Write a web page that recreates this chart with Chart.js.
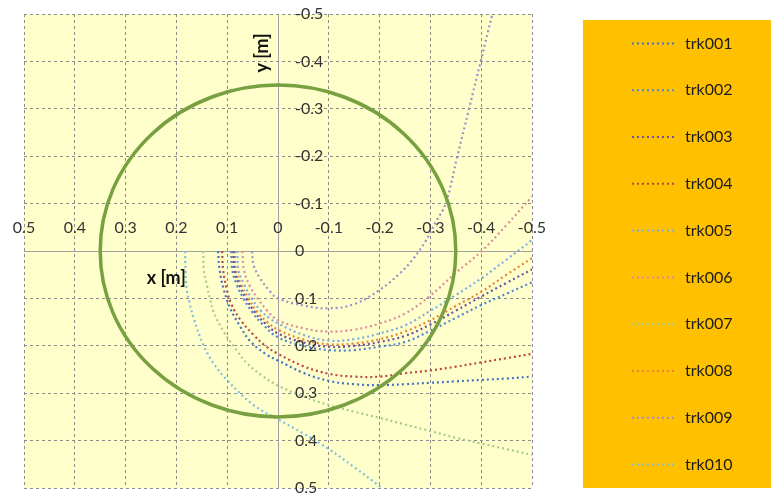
<!DOCTYPE html>
<html>
<head>
<meta charset="utf-8">
<script src="https://cdn.jsdelivr.net/npm/chart.js@4.4.1/dist/chart.umd.min.js"></script>
<style>
  html, body { margin: 0; padding: 0; background: #ffffff; }
  #wrap { width: 771px; height: 493px; }
</style>
</head>
<body>
<div id="wrap"><canvas id="tracks" width="771" height="493"></canvas></div>
<script>
// Track names shown in the legend
const trackNames = ['trk001', 'trk002', 'trk003', 'trk004', 'trk005',
                    'trk006', 'trk007', 'trk008', 'trk009', 'trk010'];

// Track coordinates, [x, y] in metres
const trk001 = [[0.118,0],[0.115,0.04],[0.107,0.08],[0.094,0.121],[0.075,0.158],[0.055,0.19],[0.022,0.219],[0,0.231],[-0.05,0.257],[-0.1,0.274],[-0.15,0.281],[-0.2,0.283],[-0.25,0.281],[-0.3,0.278],[-0.35,0.275],[-0.4,0.272],[-0.45,0.269],[-0.5,0.265]];
const trk002 = [[0.092,0],[0.09,0.04],[0.081,0.072],[0.068,0.1],[0.05,0.13],[0.03,0.155],[0,0.182],[-0.05,0.2],[-0.1,0.209],[-0.15,0.209],[-0.2,0.202],[-0.25,0.192],[-0.3,0.168],[-0.35,0.141],[-0.4,0.114],[-0.45,0.09],[-0.5,0.066]];
const trk003 = [[0.088,0],[0.086,0.04],[0.076,0.072],[0.063,0.1],[0.045,0.13],[0.025,0.153],[0,0.174],[-0.05,0.193],[-0.1,0.202],[-0.15,0.2],[-0.2,0.192],[-0.25,0.179],[-0.3,0.155],[-0.35,0.126],[-0.4,0.096],[-0.45,0.067],[-0.5,0.039]];
const trk004 = [[0.11,0],[0.108,0.04],[0.101,0.08],[0.091,0.114],[0.072,0.148],[0.048,0.177],[0.025,0.2],[0,0.217],[-0.05,0.243],[-0.1,0.259],[-0.15,0.265],[-0.2,0.265],[-0.25,0.258],[-0.3,0.252],[-0.35,0.244],[-0.4,0.235],[-0.45,0.226],[-0.5,0.217]];
const trk005 = [[0.08,0],[0.078,0.04],[0.066,0.072],[0.052,0.1],[0.034,0.126],[0.015,0.143],[0,0.153],[-0.05,0.177],[-0.1,0.189],[-0.15,0.186],[-0.2,0.174],[-0.25,0.157],[-0.3,0.126],[-0.35,0.093],[-0.4,0.058],[-0.45,0.018],[-0.5,-0.023]];
const trk006 = [[0.07,0],[0.067,0.04],[0.055,0.075],[0.04,0.1],[0.022,0.125],[0,0.146],[-0.05,0.163],[-0.1,0.17],[-0.15,0.166],[-0.2,0.153],[-0.25,0.132],[-0.3,0.094],[-0.35,0.046],[-0.4,0.001],[-0.45,-0.055],[-0.5,-0.115]];
const trk007 = [[0.147,0],[0.146,0.04],[0.14,0.072],[0.134,0.1],[0.127,0.128],[0.107,0.17],[0.081,0.21],[0.061,0.237],[0.03,0.264],[0,0.284],[-0.05,0.307],[-0.1,0.325],[-0.15,0.339],[-0.2,0.352],[-0.25,0.366],[-0.3,0.38],[-0.35,0.394],[-0.4,0.406],[-0.45,0.418],[-0.5,0.43]];
const trk008 = [[0.085,0],[0.083,0.04],[0.072,0.072],[0.058,0.1],[0.04,0.13],[0.02,0.151],[0,0.166],[-0.05,0.187],[-0.1,0.197],[-0.15,0.195],[-0.2,0.186],[-0.25,0.17],[-0.3,0.146],[-0.35,0.116],[-0.4,0.086],[-0.45,0.05],[-0.5,0.015]];
const trk009 = [[0.051,0],[0.048,0.03],[0.035,0.058],[0.015,0.086],[0,0.1],[-0.05,0.115],[-0.1,0.121],[-0.15,0.112],[-0.2,0.082],[-0.24,0.047],[-0.265,0.018],[-0.29,-0.02],[-0.31,-0.06],[-0.33,-0.1],[-0.353,-0.2],[-0.376,-0.3],[-0.399,-0.4],[-0.422,-0.5]];
const trk010 = [[0.183,0],[0.182,0.04],[0.18,0.079],[0.174,0.11],[0.166,0.142],[0.147,0.198],[0.127,0.237],[0.097,0.276],[0.048,0.325],[0,0.355],[-0.05,0.385],[-0.1,0.418],[-0.15,0.456],[-0.205,0.5]];

// Tick values shared by both axes
const axisTicks = [-0.5, -0.4, -0.3, -0.2, -0.1, 0, 0.1, 0.2, 0.3, 0.4, 0.5];

// Radius of the detector boundary, metres
const boundaryRadius = 0.35;

// Styling
const trackColors = ['#4472C4', '#5087D0', '#6F4FA0', '#B84743', '#80ABDE',
                     '#DB8C9C', '#A8C98C', '#E8833A', '#A08CC8', '#7DBFE3'];
const tracks = [trk001, trk002, trk003, trk004, trk005, trk006, trk007, trk008, trk009, trk010];
const FONT = 'Lato, "Open Sans", sans-serif';

// Pale plot background
const plotBackground = {
  id: 'plotBackground',
  beforeDraw(chart) {
    const { ctx, chartArea: a } = chart;
    ctx.save();
    ctx.fillStyle = '#FFFFCC';
    ctx.fillRect(a.left, a.top, a.right - a.left, a.bottom - a.top);
    ctx.restore();
  }
};

// Boundary circle drawn through the axis scales
const boundaryCircle = {
  id: 'boundaryCircle',
  afterDatasetsDraw(chart) {
    const { ctx, scales: { x, y } } = chart;
    const cx = x.getPixelForValue(0), cy = y.getPixelForValue(0);
    const rx = Math.abs(x.getPixelForValue(boundaryRadius) - cx);
    const ry = Math.abs(y.getPixelForValue(boundaryRadius) - cy);
    ctx.save();
    ctx.strokeStyle = '#77A040';
    ctx.lineWidth = 3.5;
    ctx.beginPath();
    ctx.ellipse(cx, cy, rx, ry, 0, 0, Math.PI * 2);
    ctx.stroke();
    ctx.restore();
  }
};

// Tick labels beside the crossing axes, plus axis titles
const axisLabels = {
  id: 'axisLabels',
  afterDraw(chart) {
    const { ctx, scales: { x, y } } = chart;
    const x0 = x.getPixelForValue(0), y0 = y.getPixelForValue(0);
    ctx.save();
    ctx.fillStyle = '#333333';
    ctx.font = '16px ' + FONT;
    ctx.textBaseline = 'middle';
    ctx.textAlign = 'center';
    x.ticks.forEach(t => ctx.fillText(String(t.value), x.getPixelForValue(t.value), y0 - 23));
    ctx.textAlign = 'left';
    y.ticks.forEach(t => ctx.fillText(String(t.value), x0 + 17, y.getPixelForValue(t.value)));

    ctx.fillStyle = '#111111';
    ctx.font = 'bold 18px ' + FONT;
    ctx.textAlign = 'center';
    ctx.fillText('x [m]', x.getPixelForValue(0.22), y.getPixelForValue(0.057));
    ctx.translate(x.getPixelForValue(0.032), y.getPixelForValue(-0.418));
    ctx.rotate(-Math.PI / 2);
    ctx.fillText('y [m]', 0, 0);
    ctx.restore();
  }
};

// Legend panel on the right
const legendPanel = {
  id: 'legendPanel',
  afterDraw(chart) {
    const ctx = chart.ctx;
    const left = 583, top = 20, width = 188, height = 468;
    ctx.save();
    ctx.fillStyle = '#FFC000';
    ctx.fillRect(left, top, width, height);
    const step = height / chart.data.datasets.length;
    chart.data.datasets.forEach((ds, i) => {
      const cy = top + step * (i + 0.5);
      ctx.strokeStyle = ds.borderColor;
      ctx.lineWidth = 2;
      ctx.setLineDash([2, 3]);
      ctx.beginPath();
      ctx.moveTo(632, cy);
      ctx.lineTo(677, cy);
      ctx.stroke();
      ctx.setLineDash([]);
      ctx.fillStyle = '#1c1c1c';
      ctx.font = '16px ' + FONT;
      ctx.textAlign = 'left';
      ctx.textBaseline = 'middle';
      ctx.fillText(ds.label, 685, cy);
    });
    ctx.restore();
  }
};

const axisOptions = (crossAt) => ({
  type: 'linear',
  min: -0.5,
  max: 0.5,
  reverse: true,
  position: crossAt,
  afterBuildTicks: s => { s.ticks = axisTicks.map(v => ({ value: v })); },
  ticks: { display: false },
  grid: { color: '#8C8C8C', lineWidth: 1, drawTicks: false },
  border: { display: true, color: '#A0A0A0', width: 1, dash: [3, 3] }
});

new Chart(document.getElementById('tracks'), {
  type: 'scatter',
  data: {
    datasets: tracks.map((pts, i) => ({
      label: trackNames[i],
      data: pts.map(([px, py]) => ({ x: px, y: py })),
      showLine: true,
      borderColor: trackColors[i],
      backgroundColor: trackColors[i],
      borderWidth: 2.2,
      borderDash: [2, 3],
      pointRadius: 0,
      tension: 0.4,
      fill: false
    }))
  },
  options: {
    responsive: false,
    animation: false,
    layout: { padding: { left: 24, top: 14, right: 239, bottom: 5 } },
    scales: {
      x: axisOptions({ y: 0 }),
      y: axisOptions({ x: 0 })
    },
    plugins: { legend: { display: false }, tooltip: { enabled: false } }
  },
  plugins: [plotBackground, boundaryCircle, axisLabels, legendPanel]
});
</script>
</body>
</html>
